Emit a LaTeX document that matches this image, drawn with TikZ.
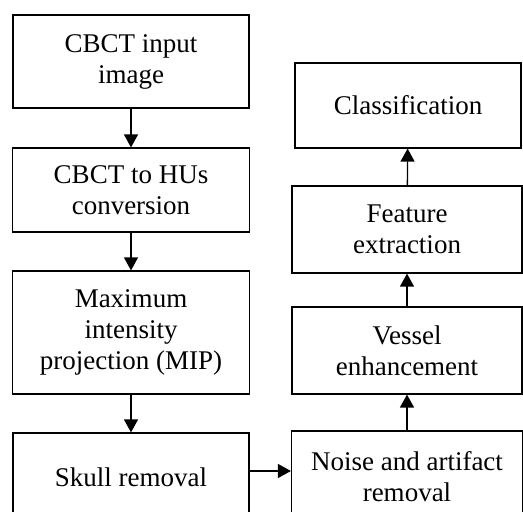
\documentclass[tikz,border=0pt]{standalone}
\usepackage{fontspec}
\setmainfont{Liberation Serif}
\usetikzlibrary{arrows.meta,positioning}

\begin{document}
\begin{tikzpicture}[x=1pt, y=-1pt,
    stage/.style = {draw, rectangle, line width=1.2pt, align=center, inner sep=0pt,
      font=\fontsize{27}{31}\selectfont},
    flow/.style = {-{Triangle[length=13pt, width=14pt]}, line width=1.3pt}]
    \useasboundingbox (0,0) rectangle (523,512);
    \clip (0,0) rectangle (523,512);
    % left column
    \node(IN) at (131,61.5) [stage, minimum width=236pt, minimum height=93pt] {CBCT input\\image};
    \node(HU) at (131,190) [stage, minimum width=237pt, minimum height=84pt] {CBCT to HUs\\conversion};
    \node(MIP) at (131,332.5) [stage, minimum width=237pt, minimum height=123pt] {Maximum\\intensity\\projection (MIP)};
    \node(SK) at (131,477) [stage, minimum width=236pt, minimum height=88pt] {Skull removal};
    % right column
    \node(CL) at (408,105.5) [stage, minimum width=226pt, minimum height=85pt] {Classification};
    \node(FE) at (407,229.5) [stage, minimum width=230pt, minimum height=87pt] {Feature\\extraction};
    \node(VE) at (407,350.5) [stage, minimum width=230pt, minimum height=87pt] {Vessel\\enhancement};
    \node(NA) at (407,477) [stage, minimum width=231pt, minimum height=92pt] {Noise and artifact\\removal};
    \draw[flow] (IN) -- (HU);
    \draw[flow] (HU) -- (MIP);
    \draw[flow] (MIP) -- (SK);
    \draw[flow] ([yshift=6pt]SK.east) -- ([yshift=6pt]NA.west);
    \draw[flow] (NA) -- (VE);
    \draw[flow] (VE) -- (FE);
    \draw[flow] (FE) -- (CL);
\end{tikzpicture}
\end{document}
